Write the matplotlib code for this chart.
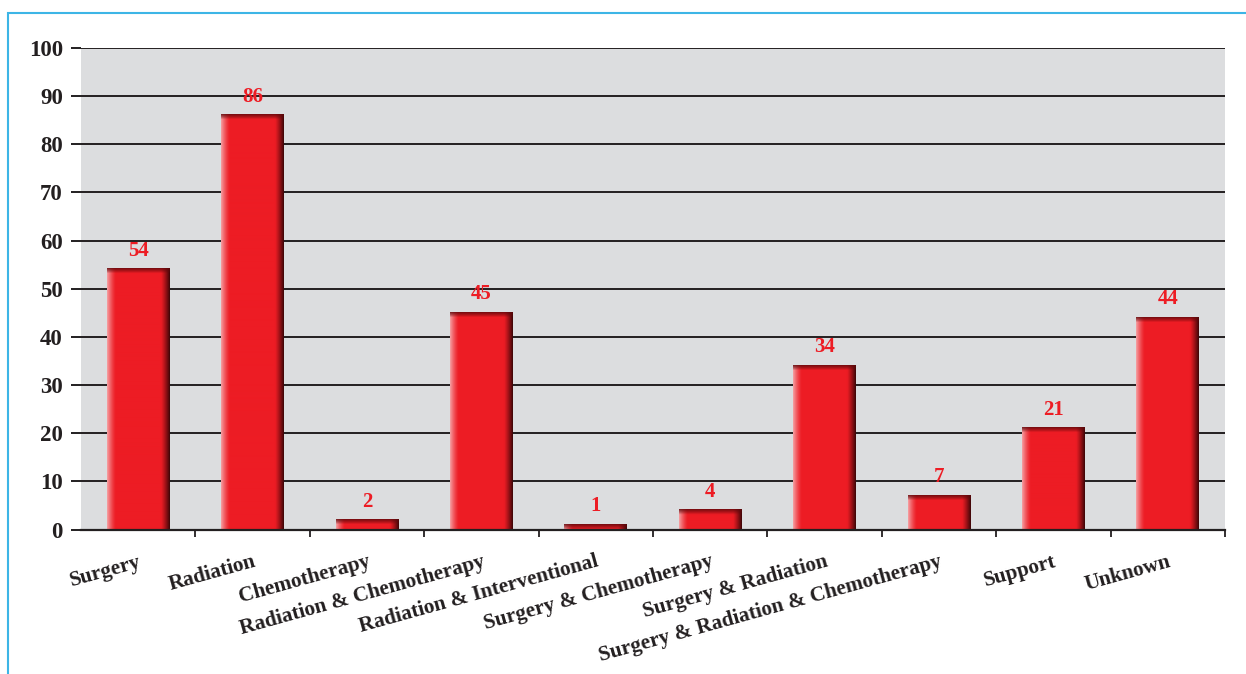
import numpy as np
import matplotlib
matplotlib.use("Agg")
import matplotlib.pyplot as plt
from matplotlib.colors import to_rgb
from matplotlib.patches import Rectangle

plt.rcParams['font.family'] = ['Liberation Serif', 'DejaVu Serif']
plt.rcParams['font.weight'] = 'bold'

# data
treatments = ["Surgery", "Radiation", "Chemotherapy", "Radiation & Chemotherapy",
              "Radiation & Interventional", "Surgery & Chemotherapy",
              "Surgery & Radiation", "Surgery & Radiation & Chemotherapy",
              "Support", "Unknown"]
patients = [54, 86, 2, 45, 1, 4, 34, 7, 21, 44]
y_ticks = [0, 10, 20, 30, 40, 50, 60, 70, 80, 90, 100]

RED = '#ED1C24'
INK = '#231F20'
BG = '#DCDDDF'

W, H = 1246, 674
fig = plt.figure(figsize=(W / 100, H / 100), dpi=100)
ax = fig.add_axes([81 / W, (H - 529.5) / H, (1225 - 81) / W, (529.5 - 48) / H])
ax.set_facecolor(BG)

x = np.arange(len(treatments))
bar_w = 0.55
bars = ax.bar(x, patients, width=bar_w, color=RED, zorder=2)

ax.set_xlim(-0.5, len(treatments) - 0.5)
ax.set_ylim(0, 100)

# pixels per data unit, used to size the shading of each bar
px_x = (1225 - 81) / len(treatments)
px_y = (529.5 - 48) / 100


def bar_shading(w_px, h_px):
    cols = max(int(round(w_px)), 2)
    rows = max(int(round(h_px)), 2)
    u = np.arange(cols)[None, :] + 0.5
    v = np.arange(rows)[:, None] + 0.5
    img = np.ones((rows, cols, 3)) * np.array(to_rgb(RED))
    pink = np.array(to_rgb('#F6A3A6'))
    dark = np.array(to_rgb('#3A0507'))
    top = np.array(to_rgb('#5E080B'))
    t_left = np.clip(1 - u / 9, 0, 1) ** 1.4
    t_right = np.clip(1 - (cols - u) / 9, 0, 1) ** 1.2
    t_top = np.clip(1 - v / 5, 0, 1) ** 0.8
    t_left = np.broadcast_to(t_left, (rows, cols))[..., None]
    t_right = np.broadcast_to(t_right, (rows, cols))[..., None]
    t_top = np.broadcast_to(t_top, (rows, cols))[..., None]
    img = img * (1 - t_left) + pink * t_left
    img = img * (1 - t_right) + dark * t_right
    img = img * (1 - t_top * 0.85) + top * (t_top * 0.85)
    return img


for b in bars:
    x0, w, h = b.get_x(), b.get_width(), b.get_height()
    img = bar_shading(w * px_x, h * px_y)
    ax.imshow(img, extent=[x0, x0 + w, 0, h], aspect='auto',
              interpolation='bilinear', zorder=3)

for xi, v in zip(x, patients):
    ax.annotate(str(v), (xi, v), xytext=(0, 6), textcoords='offset points',
                ha='center', va='bottom', color=RED, fontsize=15,
                fontweight='bold', zorder=4)

ax.set_aspect('auto')
ax.set_xlim(-0.5, len(treatments) - 0.5)
ax.set_ylim(0, 100)

# y axis
ax.set_yticks(y_ticks)
ax.yaxis.grid(True, color=INK, linewidth=1.4, zorder=1)
ax.set_axisbelow(True)
ax.tick_params(axis='y', length=7, width=1.4, color=INK, labelcolor=INK,
               labelsize=16.5, pad=6)

# x axis: labels at centres, tick marks at category boundaries
ax.set_xticks(x)
ax.set_xticks(np.arange(0.5, len(treatments), 1.0), minor=True)
ax.set_xticklabels(treatments, rotation=15.5, ha='right', va='top',
                   rotation_mode='anchor')
ax.tick_params(axis='x', which='major', length=0, pad=16, labelcolor=INK,
               labelsize=15.3)
ax.tick_params(axis='x', which='minor', length=5, width=1.3, color=INK)

for side in ['top', 'right', 'left']:
    ax.spines[side].set_visible(False)
ax.spines['bottom'].set_color(INK)
ax.spines['bottom'].set_linewidth(1.6)
ax.spines['bottom'].set_zorder(5)

# thin blue frame round the figure
fig.add_artist(Rectangle((8 / W, -0.1), 1.2, (H - 13) / H + 0.1, fill=False,
                         edgecolor='#3DB5E6', linewidth=1.5,
                         transform=fig.transFigure))

fig.savefig('out.png', dpi=100)
